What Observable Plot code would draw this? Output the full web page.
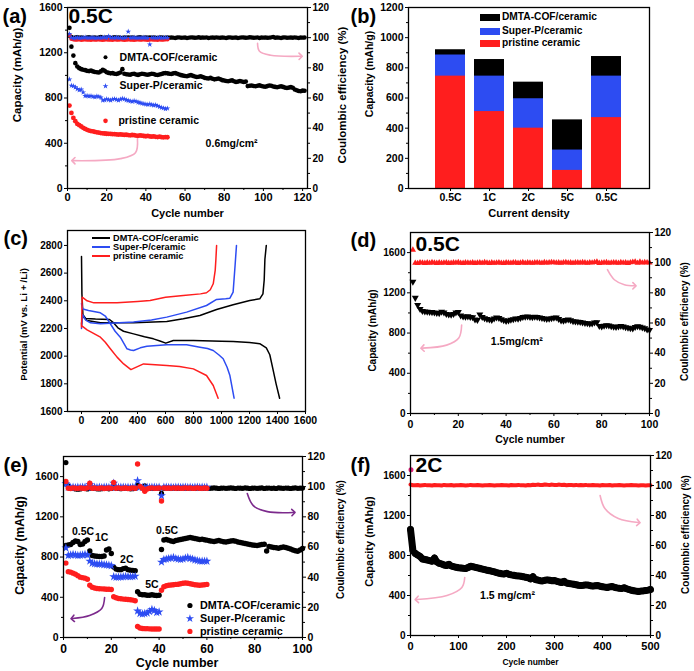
<!DOCTYPE html>
<html><head><meta charset="utf-8">
<script src="https://cdn.jsdelivr.net/npm/d3@7"></script>
<script src="https://cdn.jsdelivr.net/npm/@observablehq/plot@0.6"></script>
<style>
body{margin:0;background:#fff;}
#fig{position:relative;width:694px;height:671px;overflow:hidden;background:#fff;font-family:"Liberation Sans",Arial,sans-serif;}
.p{position:absolute;}
.p svg{overflow:visible;}
.lg{position:absolute;font:bold 10.5px "Liberation Sans",Arial,sans-serif;white-space:nowrap;line-height:1;}
.sw{position:absolute;}
</style></head><body><div id="fig"></div>
<script>
// ---------- (a) cycling at 0.5C, 0.6 mg/cm2 ----------
const aDmtaCap = [1420,1254,1175,1108,1078,1064,1055,1050,1046,1040,
1038,1042,1035,1030,1028,1025,1035,1050,1040,1028,
1022,1018,1020,1015,1012,1018,1025,1055,1015,1010,
1008,1005,1012,1015,1008,1004,1010,1015,1012,1008,
1005,1010,1014,1012,1006,1003,1008,1012,1018,1020,
1018,1015,1012,1018,1020,1015,1008,1002,998,995,
992,998,1002,996,990,985,988,992,985,978,
975,972,978,970,965,968,972,966,958,955,
950,948,952,956,948,942,945,950,946,942,
945,905,908,910,906,904,908,912,906,902,
900,905,910,908,902,898,895,900,904,898,
892,888,892,896,890,875,868,862,860,865,864];
const aDmtaEff = [101.2,100.4,99.8,100.1,100.3,99.9,100.2,100,99.7,100.1,
100.3,99.9,100,100.2,99.8,100.1,100.4,99.9,100,100.2,
100.1,99.8,100,100.3,99.9,100.1,100,99.8,100.2,100,
100.1,99.9,100.2,100,99.8,100.1,100.3,100,99.9,100.1,
100,100.2,99.9,100.1,100,99.8,100.2,100.1,99.9,100,
100.2,99.9,100.1,100,99.8,100.1,100.2,99.9,100,100.1,
99.8,100,100.2,100.1,99.9,100,100.3,99.9,100.1,100,
100.2,99.8,100,100.1,99.9,100.2,100,99.9,100.1,100,
99.8,100.1,100.2,99.9,100,100.1,99.8,100,100.2,100.1,
99.9,100,100.3,100.1,99.9,100,100.2,99.8,100.1,100,
100.1,99.9,100,100.2,100.4,99.9,100.1,100,99.8,100.1,
100.2,99.9,100,100.1,99.9,100.2,100,99.8,100.1,100,100.1];
const aSuperPCap = [965,910,905,895,880,870,875,850,818,820,
815,818,812,808,815,812,805,780,782,790,
785,780,788,792,786,780,788,795,790,782,
778,772,768,775,770,762,758,752,748,745,
742,746,740,736,738,730,722,715,710,705,708];
const aSuperPEff = [102.5,100,99.6,99.8,100.1,99.7,99.9,100,100.2,99.8,
100,99.9,100.1,99.7,99.8,100,99.9,100.1,100.2,99.8,
101,99.9,100,99.8,100.1,99.9,100,99.7,99.9,100,
104,99.9,100,100.1,99.8,99.9,100,99.8,100.1,99.9,
99.8,95.5,99.9,100,99.8,99.9,100.1,99.8,99.9,100,99.9];
const aPristineCap = [733,668,624,595,571,560,548,536,527,519,
512,508,505,500,497,494,490,488,486,484,
483,482,480,481,478,477,478,476,474,475,
472,470,473,471,468,466,469,467,464,462,
465,460,458,461,457,455,458,454,452,455,453];
const aPristineEff = [101.8,99.2,98.9,98.7,98.8,99,98.6,98.8,98.9,98.7,
98.8,98.6,98.9,98.7,98.8,99,98.7,98.6,98.8,98.9,
98.7,98.8,98.6,98.9,98.8,98.7,99,98.8,98.6,98.7,
98.9,98.8,98.7,98.6,98.8,98.9,98.7,98.8,99,98.7,
98.6,98.8,98.9,98.7,98.8,98.6,98.9,98.7,98.8,98.9,99];

// ---------- (b) rate capability ----------
const bDensities = ["0.5C","1C","2C","5C","0.5C"];
const bDmta = [920,855,705,455,875];
const bSuperP = [885,745,595,255,745];
const bPristine = [745,510,400,120,470];

// ---------- (c) charge/discharge profiles [capacity mAh/g, potential mV] ----------
const cDmtaDis = [[0,2720],[3,2450],[10,2300],[30,2272],[100,2268],[200,2265],[230,2240],[260,2205],[300,2180],[372,2161],[450,2140],[514,2125],[560,2110],[602,2094],[656,2113],[800,2113],[1000,2108],[1083,2105],[1200,2098],[1273,2090],[1320,2060],[1345,2010],[1367,1908],[1390,1800],[1415,1696]];
const cDmtaCh = [[0,2230],[5,2290],[40,2258],[135,2241],[372,2241],[609,2250],[727,2270],[846,2294],[965,2337],[1083,2371],[1202,2402],[1273,2414],[1296,2450],[1305,2550],[1310,2700],[1320,2800]];
const cSuperPDis = [[0,2378],[10,2340],[50,2330],[135,2313],[170,2290],[206,2234],[240,2180],[277,2137],[325,2053],[350,2045],[372,2041],[420,2060],[467,2072],[609,2082],[751,2082],[846,2065],[900,2055],[941,2041],[980,2010],[1012,1981],[1040,1920],[1060,1860],[1090,1696]];
const cSuperPCh = [[0,2200],[8,2300],[30,2260],[64,2241],[135,2234],[372,2246],[500,2262],[609,2282],[751,2318],[893,2366],[965,2410],[1030,2415],[1060,2419],[1083,2463],[1097,2655],[1107,2800]];
const cPristineDis = [[0,2220],[40,2190],[135,2137],[170,2100],[206,2053],[254,1993],[301,1944],[353,1903],[380,1915],[443,1944],[500,1940],[609,1932],[700,1925],[799,1908],[893,1860],[941,1788],[976,1696]];
const cPristineCh = [[0,2210],[5,2426],[40,2400],[88,2385],[254,2385],[400,2395],[490,2402],[600,2425],[727,2438],[850,2450],[893,2458],[920,2480],[941,2523],[955,2620],[960,2700],[965,2800]];

// ---------- (d) 0.5C, 1.5 mg/cm2 ----------
const dCap = [1310,1150,1080,1040,1020,1015,1012,1010,1008,1005,
1000,998,1012,1005,990,985,982,990,1005,1008,
975,965,962,966,960,958,935,930,985,960,
948,940,935,930,945,955,950,938,928,920,
925,932,938,945,942,950,960,962,965,960,
958,962,960,955,950,945,940,942,948,952,
955,940,925,922,930,935,928,918,915,912,
910,905,900,898,892,896,905,908,870,865,
872,878,875,868,862,860,865,870,866,858,
852,848,845,860,868,862,855,848,835,830];
const dEff = [108.5,99.8,99.6,100.1,99.9,99.7,100,99.8,100.2,99.9,
99.7,100,99.8,99.9,100.1,99.7,99.8,100,99.9,100.2,
99.8,99.7,100,99.9,99.8,100.1,99.7,99.9,100,99.8,
100.2,99.9,99.7,100,99.8,99.9,100.1,99.8,99.7,100,
99.9,99.8,100.1,100,99.7,99.9,100.2,99.8,100,99.9,
99.8,100,100.1,99.9,99.8,100.2,99.9,100,100.3,100.1,
99.9,100,99.8,100.1,100.2,99.9,100,99.8,100.1,100,
99.9,100.2,100,99.8,100.1,99.9,100.3,100.6,99.7,99.9,
100,100.2,99.8,99.9,100.1,100,99.8,100.2,99.9,100,
99.7,100.1,100.4,100.6,99.8,100.5,99.9,100.2,100.1,100];

// ---------- (e) rate performance, cycles ----------
const eDmtaCap = [915,920,925,945,960,955,925,930,955,970,
860,815,810,808,805,806,810,870,880,835,
700,680,675,675,685,690,675,670,668,665,
455,430,425,425,420,420,425,420,418,420,
875,970,975,968,960,955,965,970,975,980,
985,990,995,990,985,980,975,978,972,968,
962,958,955,960,965,958,952,950,955,960,
962,958,950,945,940,935,930,925,920,918,
915,920,925,928,860,905,900,895,892,888,
895,900,895,888,880,870,862,858,870,885];
const eDmtaEff = [116,100.5,99,99,98.5,98.3,98.5,99,98.8,98.5,
99,99.2,98.8,98.6,98.5,98.7,99,98.9,98.6,98.8,
100.5,99,98.8,98.7,98.9,99,98.8,98.6,98.7,98.9,
100.8,100,99.2,100.5,99,98.8,99,98.9,99.1,98.9,
95.5,99,99.2,99,98.9,99.1,99,98.8,99,99.2,
99,98.9,99.1,99,98.8,99.2,99,98.9,99,99.1,
98.9,99,99.2,99,98.8,99,99.1,98.9,99,99.2,
99,98.8,99.1,99,98.9,99.2,99,98.8,99,99.1,
98.9,99,99.2,98.8,99,99.1,98.9,99,98.8,99.2,
99,98.9,99.1,99,98.8,99,99.2,98.9,99,99.1];
const eSuperPCap = [890,815,820,825,820,815,818,822,825,820,
760,740,735,732,730,728,725,722,720,715,
605,600,600,602,605,608,606,604,606,610,
265,240,235,240,245,260,280,270,250,255,
750,775,780,785,790,795,785,780,775,780,
790,795,785,780,772,765,760,758,760,758];
const eSuperPEff = [102,99.6,99.5,99.7,99.4,99.6,99.5,99.7,99.6,99.5,
101.5,99.6,99.7,99.5,99.6,99.4,99.6,99.7,99.5,99.6,
102.3,99.6,99.5,99.7,99.6,99.5,99.6,99.4,99.6,99.7,
104,99.6,99.5,99.7,99.6,99.5,99.6,99.7,99.5,99.6,
94,99.6,99.7,99.5,99.6,99.4,99.6,99.7,99.5,99.6,
99.7,99.5,99.6,99.4,99.6,99.7,99.5,99.6,99.5,99.6];
const ePristineCap = [740,655,650,640,630,615,600,595,590,580,
520,500,492,488,485,484,482,480,480,478,
405,395,388,385,382,380,378,375,372,365,
110,95,90,88,88,86,85,85,84,85,
470,505,515,520,522,525,528,530,535,540,
542,540,535,530,525,522,520,522,525,528];
const ePristineEff = [103.5,99,98.8,99.2,99,98.9,99.1,99,98.8,99.2,
102.3,99,99.1,98.9,99,99.2,98.8,99,99.1,98.9,
102.8,99,99.2,98.9,99,99.1,98.8,99,99.2,99,
115,100.2,99,97,98.5,99,99.2,98.9,99,99.1,
90.5,99.2,99,99.1,98.9,99.2,99,99.1,98.9,99,
99.2,99,99.1,98.9,99,99.2,99,98.9,99.1,99];

// ---------- (f) 2C long cycling, every 5 cycles (0..500) ----------
const fCap = [1060,850,820,805,790,765,760,755,748,742,
775,735,722,715,705,700,712,695,688,682,
678,675,672,670,680,692,688,682,676,670,
664,658,652,648,642,636,628,622,618,615,
622,612,606,602,598,596,592,588,582,578,
565,588,560,555,548,546,552,556,552,548,
550,542,535,530,542,525,520,516,512,508,
503,500,502,506,504,498,494,498,500,492,
488,484,480,486,490,482,476,472,470,478,
468,460,452,448,444,440,444,446,450,454,460];
const fEffFirst = 110.5;
const fEff = [100.6,100.2,100.1,100.3,100,100.2,100.4,100.1,100.2,100,
100.3,100.1,100.2,100,100.4,100.2,100.1,100.3,100,100.2,
100.1,100.3,100.2,100,100.1,100.4,100.2,100.1,100.3,100.2,
100,100.2,100.1,100.3,100.2,100,100.1,100.2,100.3,100.1,
100.2,100,100.3,100.1,100.2,100.4,100.1,100.2,100,100.3,
100.2,100.5,100.3,100.6,100.4,100.3,100.7,100.5,100.4,100.6,
100.3,100.4,100.6,100.3,100.5,100.2,100.4,100.3,100.2,100.4,
100.1,100.3,100.2,100.4,100.1,100.2,100.3,100.1,100.2,100,
100.3,100.2,100.1,100.3,100,100.2,100.1,100.3,100.2,100,
100.1,100.2,100.4,100.2,100.1,100,100.2,100.1,100,100.2,100.1];

// ---------- tick values ----------
const capTicks1600 = [0,400,800,1200,1600];
const capMinor1600 = [200,600,1000,1400];
const effTicks = [0,20,40,60,80,100,120];
const effMinor = [10,30,50,70,90,110];
const cycleTicks120 = [0,20,40,60,80,100,120];
const cycleMinor120 = [10,30,50,70,90,110];
const cycleTicks100 = [0,20,40,60,80,100];
const cycleMinor100 = [10,30,50,70,90];
const cycleTicks500 = [0,100,200,300,400,500];
const cycleMinor500 = [50,150,250,350,450];
const bCapTicks = [0,200,400,600,800,1000,1200];
const bCapMinor = [100,300,500,700,900,1100];
const cCapTicks = [0,200,400,600,800,1000,1200,1400,1600];
const cPotTicks = [1600,1800,2000,2200,2400,2600,2800];

// ---------- annotations (data units) ----------
const aArrowL = [[35.7,440],[34.7,316],[27,264],[3,246]];
const aArrowR = [[97,1283],[98,1213],[103.7,1178],[119,1169]];
const dArrowL = [[21.4,880],[20.2,750],[15.1,680],[5,650]];
const dArrowR = [[82.4,1430],[85.3,1330],[89.5,1280],[93.7,1270]];
const eArrowL = [[17.2,398],[16,288],[10.9,219],[3.8,189]];
const eArrowR = [[76.9,1431],[79.4,1312],[85.3,1252],[96.2,1243]];
const fArrowL = [[113,580],[107,480],[76,400],[13,360]];
const fArrowR = [[395,1400],[405,1270],[433,1170],[475,1130]];

const BLUE = "#2d4cf2", RED = "#ff1e1e", PINK = "#f5a9c3", PURPLE = "#7c2a8c";
const FONT = "'Liberation Sans', Arial, sans-serif";
const STYLE = {background:"transparent", fontFamily:FONT, fontSize:"10.5px", fontWeight:"bold", overflow:"visible", color:"black"};
const plain = d => String(d);

const fig = document.getElementById("fig");
function mount(svg, left, top) {
  const d = document.createElement("div");
  d.className = "p"; d.style.left = left + "px"; d.style.top = top + "px";
  d.appendChild(svg); fig.appendChild(d);
}
function htmlText(txt, left, cy, size) {
  const s = document.createElement("div");
  s.className = "lg"; s.textContent = txt;
  const sz = size || 10.5;
  s.style.left = left + "px"; s.style.top = (cy - sz/2) + "px";
  s.style.fontSize = sz + "px";
  fig.appendChild(s);
}
function swatch(left, top, w, h, color) {
  const s = document.createElement("div");
  s.className = "sw"; s.style.left = left+"px"; s.style.top = top+"px";
  s.style.width = w+"px"; s.style.height = h+"px"; s.style.background = color;
  fig.appendChild(s);
}
const idx1 = (d, i) => i + 1;
const val = d => d;

function leftAxis(ticks, minor, size) {
  const m = [Plot.axisY({anchor:"left", ticks, tickSize:3, tickPadding:2, label:null, fontSize:size||10.5, tickFormat:plain})];
  if (minor) m.push(Plot.axisY({anchor:"left", ticks:minor, tickSize:2, tickFormat:() => "", label:null}));
  return m;
}
function rightAxis(k, size) {
  return [
    Plot.axisY({anchor:"right", ticks:effTicks.map(t => t * k), tickFormat:d => String(Math.round(d / k)), tickSize:3, tickPadding:2, label:null, fontSize:size||10.5}),
    Plot.axisY({anchor:"right", ticks:effMinor.map(t => t * k), tickSize:2, tickFormat:() => "", label:null})
  ];
}
function bottomAxis(ticks, minor, size, fmt, pad) {
  const m = [Plot.axisX({anchor:"bottom", ticks, tickSize:3, tickPadding:pad||2, label:null, fontSize:size||11, tickFormat:fmt||plain})];
  if (minor) m.push(Plot.axisX({anchor:"bottom", ticks:minor, tickSize:2, tickFormat:() => "", label:null}));
  return m;
}
function label(txt, o) {
  return Plot.text([txt], {text:val, textAnchor:o.anchor||"middle", lineAnchor:"middle", fontWeight:"bold", ...o});
}
function yLabelL(txt, dx, dy, size) { return label(txt, {frameAnchor:"left", rotate:-90, dx, dy, fontSize:size}); }
function yLabelR(txt, dx, dy, size) { return label(txt, {frameAnchor:"right", rotate:-90, dx, dy, fontSize:size}); }
function xLabel(txt, dy, size, dx) { return label(txt, {frameAnchor:"bottom", dy, dx:dx||0, fontSize:size}); }
function corner(txt, dx, dy, size) { return label(txt, {frameAnchor:"top-left", anchor:"start", dx, dy, fontSize:size}); }
function arrow(pts, color) {
  return Plot.line(pts, {x:d => d[0], y:d => d[1], curve:"catmull-rom", stroke:color, strokeWidth:1.6, markerEnd:"arrow"});
}
function anno(txt, x, y, size, anchor) {
  return Plot.text([txt], {x:() => x, y:() => y, text:val, textAnchor:anchor||"start", lineAnchor:"middle", fontSize:size||10.5, fontWeight:"bold"});
}

// ===== Panel (a) =====
const kA = 1600 / 120;
mount(Plot.plot({
  width:347, height:222, marginLeft:67, marginRight:40, marginTop:7, marginBottom:34,
  x:{domain:[0,122.5]}, y:{domain:[0,1600]}, style:STYLE,
  marks:[
    arrow(aArrowL, PINK), arrow(aArrowR, PINK),
    Plot.dot(aDmtaEff, {x:idx1, y:d => d * kA, r:2.2, fill:"black"}),
    Plot.dot(aPristineEff, {x:idx1, y:d => d * kA, r:2.2, fill:RED}),
    Plot.dot(aSuperPEff, {x:idx1, y:d => d * kA, r:1.8, symbol:"star", fill:BLUE}),
    Plot.dot(aDmtaCap, {x:idx1, y:val, r:2.3, fill:"black"}),
    Plot.dot(aSuperPCap, {x:idx1, y:val, r:1.8, symbol:"star", fill:BLUE}),
    Plot.dot(aPristineCap, {x:idx1, y:val, r:2.4, fill:RED}),
    Plot.dot([0], {x:() => 19.4, y:() => 1160, r:2, fill:"black"}),
    Plot.dot([0], {x:() => 19.4, y:() => 905, r:1.8, symbol:"star", fill:BLUE}),
    Plot.dot([0], {x:() => 19.4, y:() => 598, r:2.3, fill:RED}),
    anno("DMTA-COF/ceramic", 26.6, 1160),
    anno("Super-P/ceramic", 26.6, 905),
    anno("pristine ceramic", 26, 598),
    anno("0.6mg/cm²", 70.5, 395),
    Plot.frame({stroke:"black", strokeWidth:1.3}),
    ...leftAxis(capTicks1600, capMinor1600),
    ...rightAxis(kA, 10),
    ...bottomAxis(cycleTicks120, cycleMinor120, 11),
    yLabelL("Capacity (mAh/g)", -50, -23, 11.5),
    yLabelR("Coulombic efficiency (%)", 35, -3, 11.5),
    xLabel("Cycle number", 25, 11),
    corner("(a)", -65, 9, 20),
    corner("0.5C", 1, 8.5, 21)
  ]
}), 0, 0);

// ===== Panel (b) =====
const bIdx = [0,1,2,3,4];
mount(Plot.plot({
  width:347, height:222, marginLeft:61, marginRight:45, marginTop:7, marginBottom:34,
  x:{type:"band", domain:bIdx, paddingInner:0.225, paddingOuter:0.64},
  y:{domain:[0,1200]}, style:STYLE,
  marks:[
    Plot.barY(bIdx, {x:val, y:i => bDmta[i], fill:"black"}),
    Plot.barY(bIdx, {x:val, y:i => bSuperP[i], fill:BLUE}),
    Plot.barY(bIdx, {x:val, y:i => bPristine[i], fill:RED}),
    Plot.frame({stroke:"black", strokeWidth:1.3}),
    ...leftAxis(bCapTicks, bCapMinor),
    ...bottomAxis(undefined, null, 10.5, i => bDensities[i]),
    yLabelL("Capacity (mAh/g)", -39, -24, 10.5),
    xLabel("Current density", 25, 11),
    corner("(b)", -58, 9, 20)
  ]
}), 347, 0);
swatch(480, 14, 20, 7, "black"); htmlText("DMTA-COF/ceramic", 502, 17.5, 10.2);
swatch(480, 28, 20, 7, BLUE); htmlText("Super-P/ceramic", 502, 31.5, 10.2);
swatch(480, 40, 20, 7, RED); htmlText("pristine ceramic", 502, 43.5, 10.2);

// ===== Panel (c) =====
const cx = d => d[0], cy = d => d[1];
mount(Plot.plot({
  width:347, height:225, marginLeft:67, marginRight:42, marginTop:15, marginBottom:29,
  x:{domain:[-100,1600]}, y:{domain:[1600,2908]}, style:STYLE,
  marks:[
    Plot.line(cDmtaDis, {x:cx, y:cy, stroke:"black", strokeWidth:1.5}),
    Plot.line(cDmtaCh, {x:cx, y:cy, stroke:"black", strokeWidth:1.5}),
    Plot.line(cSuperPDis, {x:cx, y:cy, stroke:BLUE, strokeWidth:1.5}),
    Plot.line(cSuperPCh, {x:cx, y:cy, stroke:BLUE, strokeWidth:1.5}),
    Plot.line(cPristineDis, {x:cx, y:cy, stroke:RED, strokeWidth:1.5}),
    Plot.line(cPristineCh, {x:cx, y:cy, stroke:RED, strokeWidth:1.5}),
    Plot.frame({stroke:"black", strokeWidth:1.3}),
    ...leftAxis(cPotTicks, null, 10),
    ...bottomAxis(cCapTicks, null, 10.5),
    yLabelL("Potential (mV vs. Li + /Li)", -44, 3.5, 9.5),
    corner("(c)", -64, 8, 20)
  ]
}), 0, 215);
swatch(92, 237, 18, 2, "black"); htmlText("DMTA-COF/ceramic", 113, 238.5, 9.2);
swatch(92, 246, 18, 2, BLUE); htmlText("Super-P/ceramic", 113, 247.5, 9.2);
swatch(92, 255, 18, 2, RED); htmlText("pristine ceramic", 113, 256.5, 9.2);

// ===== Panel (d) =====
const k15 = 1800 / 120;
mount(Plot.plot({
  width:347, height:225, marginLeft:63, marginRight:45, marginTop:17, marginBottom:27,
  x:{domain:[0,100]}, y:{domain:[0,1800]}, style:STYLE,
  marks:[
    arrow(dArrowL, PINK), arrow(dArrowR, PINK),
    Plot.dot(dEff, {x:idx1, y:d => d * k15, symbol:"triangle", r:2.3, fill:RED}),
    Plot.dot(dCap, {x:idx1, y:val, symbol:"triangle", rotate:180, r:2.6, fill:"black"}),
    anno("1.5mg/cm²", 33.6, 710, 10.5),
    Plot.frame({stroke:"black", strokeWidth:1.3}),
    ...leftAxis(capTicks1600, capMinor1600, 10),
    ...rightAxis(k15, 10),
    ...bottomAxis(cycleTicks100, cycleMinor100, 10.5, null, 4),
    yLabelL("Capacity (mAh/g)", -38, 7.5, 10),
    yLabelR("Coulombic efficiency (%)", 35, -1.5, 10),
    xLabel("Cycle number", 26, 10.5),
    corner("(d)", -60, 8, 20),
    corner("0.5C", 5, 12, 21)
  ]
}), 347, 215);

// ===== Panel (e) =====
mount(Plot.plot({
  width:347, height:231, marginLeft:63, marginRight:45, marginTop:16, marginBottom:34,
  x:{domain:[0,100]}, y:{domain:[0,1800]}, style:STYLE,
  marks:[
    arrow(eArrowL, PURPLE), arrow(eArrowR, PURPLE),
    Plot.dot(eDmtaEff, {x:idx1, y:d => d * k15, r:2.6, fill:"black"}),
    Plot.dot(eSuperPEff, {x:idx1, y:d => d * k15, r:2.8, symbol:"star", fill:BLUE}),
    Plot.dot(ePristineEff, {x:idx1, y:d => d * k15, r:2.7, fill:RED}),
    Plot.dot(eDmtaCap, {x:idx1, y:val, r:2.7, fill:"black"}),
    Plot.dot(eSuperPCap, {x:idx1, y:val, r:2.8, symbol:"star", fill:BLUE}),
    Plot.dot(ePristineCap, {x:idx1, y:val, r:2.7, fill:RED}),
    anno("0.5C", 8.2, 1049, 10.5, "middle"),
    anno("1C", 16, 994, 10.5, "middle"),
    anno("2C", 26.5, 775, 10.5, "middle"),
    anno("5C", 37, 527, 10.5, "middle"),
    anno("0.5C", 43.3, 1064, 10.5, "middle"),
    Plot.dot([0], {x:() => 52.9, y:() => 318, r:2.6, fill:"black"}),
    Plot.dot([0], {x:() => 52.9, y:() => 189, r:2.6, symbol:"star", fill:BLUE}),
    Plot.dot([0], {x:() => 52.9, y:() => 60, r:2.6, fill:RED}),
    anno("DMTA-COF/ceramic", 57.1, 318, 10.8),
    anno("Super-P/ceramic", 57.1, 189, 10.8),
    anno("pristine ceramic", 57.1, 60, 10.8),
    Plot.frame({stroke:"black", strokeWidth:1.3}),
    ...leftAxis(capTicks1600, capMinor1600, 10.5),
    ...rightAxis(k15, 10.5),
    ...bottomAxis(cycleTicks100, cycleMinor100, 12, null, 4),
    yLabelL("Capacity (mAh/g)", -43, -1.5, 12),
    yLabelR("Coulombic efficiency (%)", 38, -7.5, 10),
    xLabel("Cycle number", 25, 12.5, -6),
    corner("(e)", -60, 9, 20)
  ]
}), 0, 440);

// ===== Panel (f) =====
const idx5 = (d, i) => i * 5;
mount(Plot.plot({
  width:347, height:231, marginLeft:63, marginRight:44, marginTop:15, marginBottom:36,
  x:{domain:[0,500]}, y:{domain:[0,1800]}, style:STYLE,
  marks:[
    arrow(fArrowL, PINK), arrow(fArrowR, PINK),
    Plot.line(fEff, {x:idx5, y:d => d * k15, stroke:RED, strokeWidth:4}),
    Plot.dot([fEffFirst], {x:() => 1, y:d => d * k15, r:2.5, fill:"#e0207a"}),
    Plot.line(fCap, {x:idx5, y:val, stroke:"black", strokeWidth:7}),
    Plot.dot(fCap, {x:idx5, y:val, r:3.2, fill:"black"}),
    anno("1.5 mg/cm²", 145, 400, 10.5),
    Plot.frame({stroke:"black", strokeWidth:1.3}),
    ...leftAxis(capTicks1600, capMinor1600, 10),
    ...rightAxis(k15, 10),
    ...bottomAxis(cycleTicks500, cycleMinor500, 11, null, 4),
    yLabelL("Capacity (mAh/g)", -41, -4, 11),
    yLabelR("Coulombic efficiency (%)", 35, -11, 10),
    xLabel("Cycle number", 27, 8.5),
    corner("(f)", -60, 10, 20),
    corner("2C", 5, 10, 21)
  ]
}), 347, 440);
</script></body></html>
